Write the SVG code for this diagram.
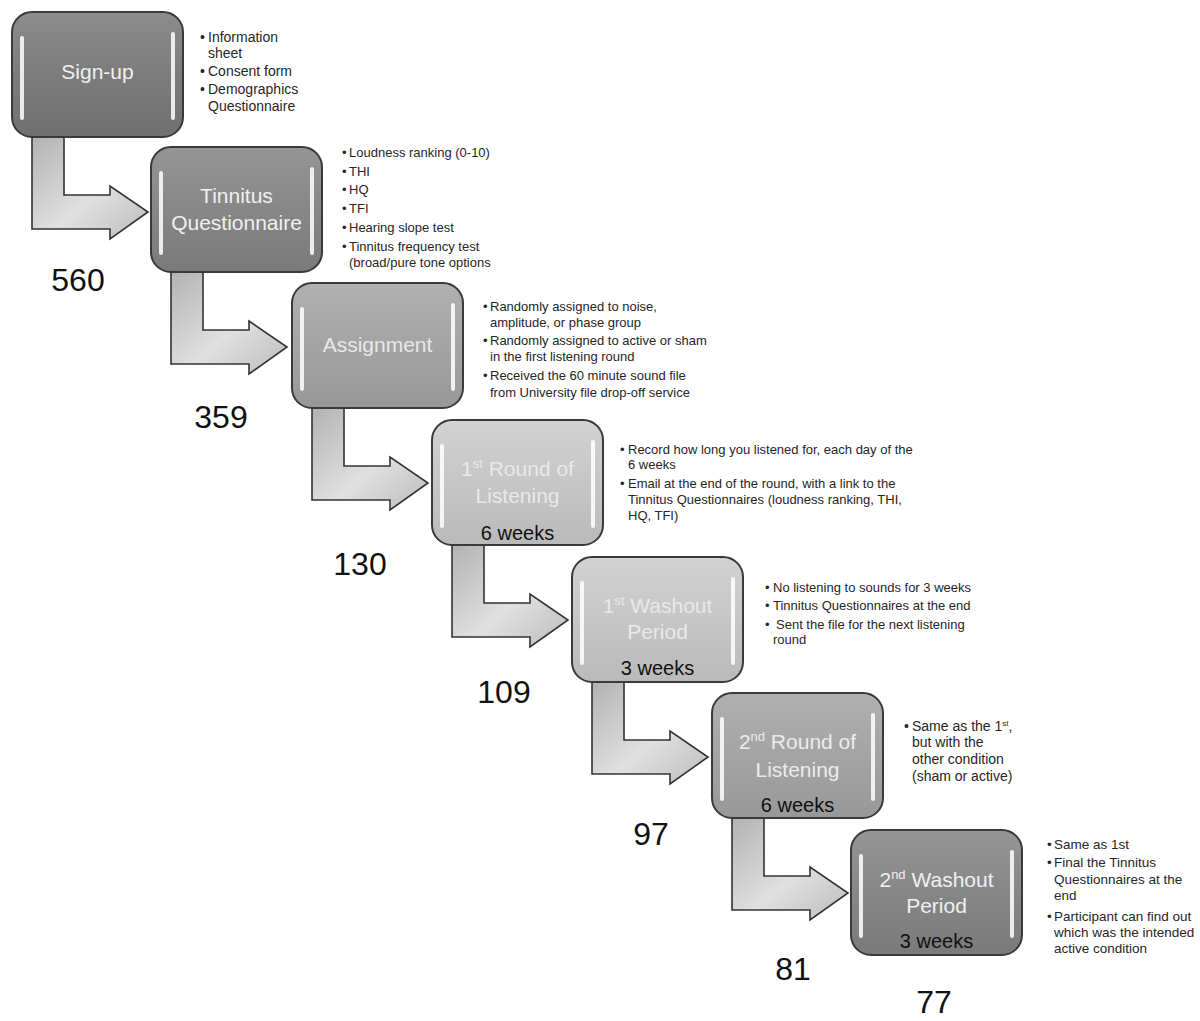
<svg xmlns="http://www.w3.org/2000/svg" width="1200" height="1021" viewBox="0 0 1200 1021">
<defs>
  <linearGradient id="arrowGrad" x1="0" y1="0" x2="1" y2="1">
    <stop offset="0" stop-color="#b2b2b2"/>
    <stop offset="0.55" stop-color="#e0e0e0"/>
    <stop offset="1" stop-color="#bcbcbc"/>
  </linearGradient>
  <linearGradient id="gDark" x1="0" y1="0" x2="0" y2="1">
    <stop offset="0" stop-color="#8c8c8c"/>
    <stop offset="0.5" stop-color="#7c7c7c"/>
    <stop offset="1" stop-color="#707070"/>
  </linearGradient>
  <linearGradient id="gDark2" x1="0" y1="0" x2="0" y2="1">
    <stop offset="0" stop-color="#959595"/>
    <stop offset="0.5" stop-color="#878787"/>
    <stop offset="1" stop-color="#7a7a7a"/>
  </linearGradient>
  <linearGradient id="gMid" x1="0" y1="0" x2="0" y2="1">
    <stop offset="0" stop-color="#b0b0b0"/>
    <stop offset="0.5" stop-color="#a4a4a4"/>
    <stop offset="1" stop-color="#989898"/>
  </linearGradient>
  <linearGradient id="gLight" x1="0" y1="0" x2="0" y2="1">
    <stop offset="0" stop-color="#d2d2d2"/>
    <stop offset="0.5" stop-color="#c6c6c6"/>
    <stop offset="1" stop-color="#bababa"/>
  </linearGradient>
  <style>
    .box { stroke: #3a3a3a; stroke-width: 2; }
    .hl { fill: #ffffff; opacity: 0.85; }
    .arrow { fill: url(#arrowGrad); stroke: #333333; stroke-width: 1.6; stroke-linejoin: miter; }
    .lbl { font-family: "Liberation Sans", Arial, sans-serif; font-size: 21px; text-anchor: middle; }
    .wk { font-family: "Liberation Sans", Arial, sans-serif; font-size: 20px; text-anchor: middle; fill: #111111; }
    .num { font-family: "Liberation Sans", Arial, sans-serif; font-size: 32px; text-anchor: middle; fill: #111111; }
    .bul { font-family: "Liberation Sans", Arial, sans-serif; font-size: 13px; fill: #262626; }
    .bulL { font-family: "Liberation Sans", Arial, sans-serif; font-size: 14px; fill: #262626; }
    .bulM { font-family: "Liberation Sans", Arial, sans-serif; font-size: 13.5px; fill: #262626; }
  </style>
</defs>
<rect width="1200" height="1021" fill="#ffffff"/>

<g id="connectors">
  <path class="arrow" d="M32 137 L32 229 L110 229 L110 239 L148 212 L110 186 L110 195 L64 195 L64 137 Z"/>
  <path class="arrow" d="M171 272 L171 364 L249 364 L249 374 L287 347 L249 321 L249 330 L203 330 L203 272 Z"/>
  <path class="arrow" d="M312 408 L312 500 L390 500 L390 510 L428 483 L390 457 L390 466 L344 466 L344 408 Z"/>
  <path class="arrow" d="M452 545 L452 637 L530 637 L530 647 L568 620 L530 594 L530 603 L484 603 L484 545 Z"/>
  <path class="arrow" d="M592 682 L592 774 L670 774 L670 784 L708 757 L670 731 L670 740 L624 740 L624 682 Z"/>
  <path class="arrow" d="M732 818 L732 910 L810 910 L810 920 L848 893 L810 867 L810 876 L764 876 L764 818 Z"/>
</g>

<g id="node-signup">
  <rect class="box" x="12" y="12" width="171" height="125" rx="20" fill="url(#gDark)"/>
  <rect class="hl" x="20" y="36" width="4" height="84" rx="2"/>
  <rect class="hl" x="171" y="32" width="4" height="88" rx="2"/>
  <text class="lbl" x="97.5" y="79" fill="#f0f0f0">Sign-up</text>
  <text class="bulL"><tspan x="200" y="42">•</tspan><tspan x="208" y="42">Information</tspan><tspan x="208" y="58">sheet</tspan><tspan x="200" y="76">•</tspan><tspan x="208" y="76">Consent form</tspan><tspan x="200" y="94">•</tspan><tspan x="208" y="94">Demographics</tspan><tspan x="208" y="111">Questionnaire</tspan></text>
</g>

<g id="node-tinnitus">
  <rect class="box" x="151" y="147" width="171" height="125" rx="20" fill="url(#gDark2)"/>
  <rect class="hl" x="159" y="171" width="4" height="84" rx="2"/>
  <rect class="hl" x="310" y="167" width="4" height="88" rx="2"/>
  <text class="lbl" x="236.5" y="203" fill="#f0f0f0">Tinnitus</text>
  <text class="lbl" x="236.5" y="230" fill="#f0f0f0">Questionnaire</text>
  <text class="bul"><tspan x="342" y="157">•</tspan><tspan x="349" y="157">Loudness ranking (0-10)</tspan><tspan x="342" y="176">•</tspan><tspan x="349" y="176">THI</tspan><tspan x="342" y="194">•</tspan><tspan x="349" y="194">HQ</tspan><tspan x="342" y="213">•</tspan><tspan x="349" y="213">TFI</tspan><tspan x="342" y="232">•</tspan><tspan x="349" y="232">Hearing slope test</tspan><tspan x="342" y="251">•</tspan><tspan x="349" y="251">Tinnitus frequency test</tspan><tspan x="349" y="267">(broad/pure tone options</tspan></text>
</g>

<g id="node-assignment">
  <rect class="box" x="292" y="283" width="171" height="125" rx="20" fill="url(#gMid)"/>
  <rect class="hl" x="300" y="307" width="4" height="84" rx="2"/>
  <rect class="hl" x="451" y="303" width="4" height="88" rx="2"/>
  <text class="lbl" x="377.5" y="352" fill="#e8e8e8">Assignment</text>
  <text class="bul"><tspan x="483" y="311">•</tspan><tspan x="490" y="311">Randomly assigned to noise,</tspan><tspan x="490" y="327">amplitude, or phase group</tspan><tspan x="483" y="345">•</tspan><tspan x="490" y="345">Randomly assigned to active or sham</tspan><tspan x="490" y="361">in the first listening round</tspan><tspan x="483" y="380">•</tspan><tspan x="490" y="380">Received the 60 minute sound file</tspan><tspan x="490" y="397">from University file drop-off service</tspan></text>
</g>

<g id="node-round1">
  <rect class="box" x="432" y="420" width="171" height="125" rx="20" fill="url(#gLight)"/>
  <rect class="hl" x="440" y="444" width="4" height="84" rx="2"/>
  <rect class="hl" x="591" y="440" width="4" height="88" rx="2"/>
  <text class="lbl" x="517.5" y="476" fill="#e9e9e9">1<tspan font-size="13" dy="-8">st</tspan><tspan dy="8"> Round of</tspan></text>
  <text class="lbl" x="517.5" y="503" fill="#e9e9e9">Listening</text>
  <text class="wk" x="517.5" y="540">6 weeks</text>
  <text class="bul"><tspan x="620" y="454">•</tspan><tspan x="628" y="454">Record how long you listened for, each day of the</tspan><tspan x="628" y="469">6 weeks</tspan><tspan x="620" y="488">•</tspan><tspan x="628" y="488">Email at the end of the round, with a link to the</tspan><tspan x="628" y="504">Tinnitus Questionnaires  (loudness ranking, THI,</tspan><tspan x="628" y="520">HQ, TFI)</tspan></text>
</g>

<g id="node-washout1">
  <rect class="box" x="572" y="557" width="171" height="125" rx="20" fill="url(#gLight)"/>
  <rect class="hl" x="580" y="581" width="4" height="84" rx="2"/>
  <rect class="hl" x="731" y="577" width="4" height="88" rx="2"/>
  <text class="lbl" x="657.5" y="613" fill="#e9e9e9">1<tspan font-size="13" dy="-8">st</tspan><tspan dy="8"> Washout</tspan></text>
  <text class="lbl" x="657.5" y="639" fill="#e9e9e9">Period</text>
  <text class="wk" x="657.5" y="675">3 weeks</text>
  <text class="bul"><tspan x="765" y="592">•</tspan><tspan x="773" y="592">No listening to sounds for 3 weeks</tspan><tspan x="765" y="610">•</tspan><tspan x="773" y="610">Tinnitus Questionnaires at the end</tspan><tspan x="765" y="629">•</tspan><tspan x="776" y="629">Sent the file for the next listening</tspan><tspan x="773" y="644">round</tspan></text>
</g>

<g id="node-round2">
  <rect class="box" x="712" y="693" width="171" height="125" rx="20" fill="url(#gMid)"/>
  <rect class="hl" x="720" y="717" width="4" height="84" rx="2"/>
  <rect class="hl" x="871" y="713" width="4" height="88" rx="2"/>
  <text class="lbl" x="797.5" y="749" fill="#ececec">2<tspan font-size="13" dy="-8">nd</tspan><tspan dy="8"> Round of</tspan></text>
  <text class="lbl" x="797.5" y="777" fill="#ececec">Listening</text>
  <text class="wk" x="797.5" y="812">6 weeks</text>
  <text class="bulL"><tspan x="904" y="731">•</tspan><tspan x="912" y="731">Same as the 1<tspan font-size="8" dy="-5">st</tspan><tspan dy="5">,</tspan></tspan><tspan x="912" y="747">but with the</tspan><tspan x="912" y="764">other condition</tspan><tspan x="912" y="781">(sham or active)</tspan></text>
</g>

<g id="node-washout2">
  <rect class="box" x="851" y="830" width="171" height="125" rx="20" fill="url(#gDark2)"/>
  <rect class="hl" x="859" y="854" width="4" height="84" rx="2"/>
  <rect class="hl" x="1010" y="850" width="4" height="88" rx="2"/>
  <text class="lbl" x="936.5" y="887" fill="#f0f0f0">2<tspan font-size="13" dy="-8">nd</tspan><tspan dy="8"> Washout</tspan></text>
  <text class="lbl" x="936.5" y="913" fill="#f0f0f0">Period</text>
  <text class="wk" x="936.5" y="948">3 weeks</text>
  <text class="bulM"><tspan x="1047" y="849">•</tspan><tspan x="1054" y="849">Same as 1st</tspan><tspan x="1047" y="867">•</tspan><tspan x="1054" y="867">Final the Tinnitus</tspan><tspan x="1054" y="884">Questionnaires at the</tspan><tspan x="1054" y="900">end</tspan><tspan x="1047" y="921">•</tspan><tspan x="1054" y="921">Participant can find out</tspan><tspan x="1054" y="937">which was the intended</tspan><tspan x="1054" y="953">active condition</tspan></text>
</g>

<g id="counts">
  <text class="num" x="78" y="291">560</text>
  <text class="num" x="221" y="428">359</text>
  <text class="num" x="360" y="575">130</text>
  <text class="num" x="504" y="703">109</text>
  <text class="num" x="651" y="845">97</text>
  <text class="num" x="793" y="980">81</text>
  <text class="num" x="934" y="1013">77</text>
</g>
</svg>
